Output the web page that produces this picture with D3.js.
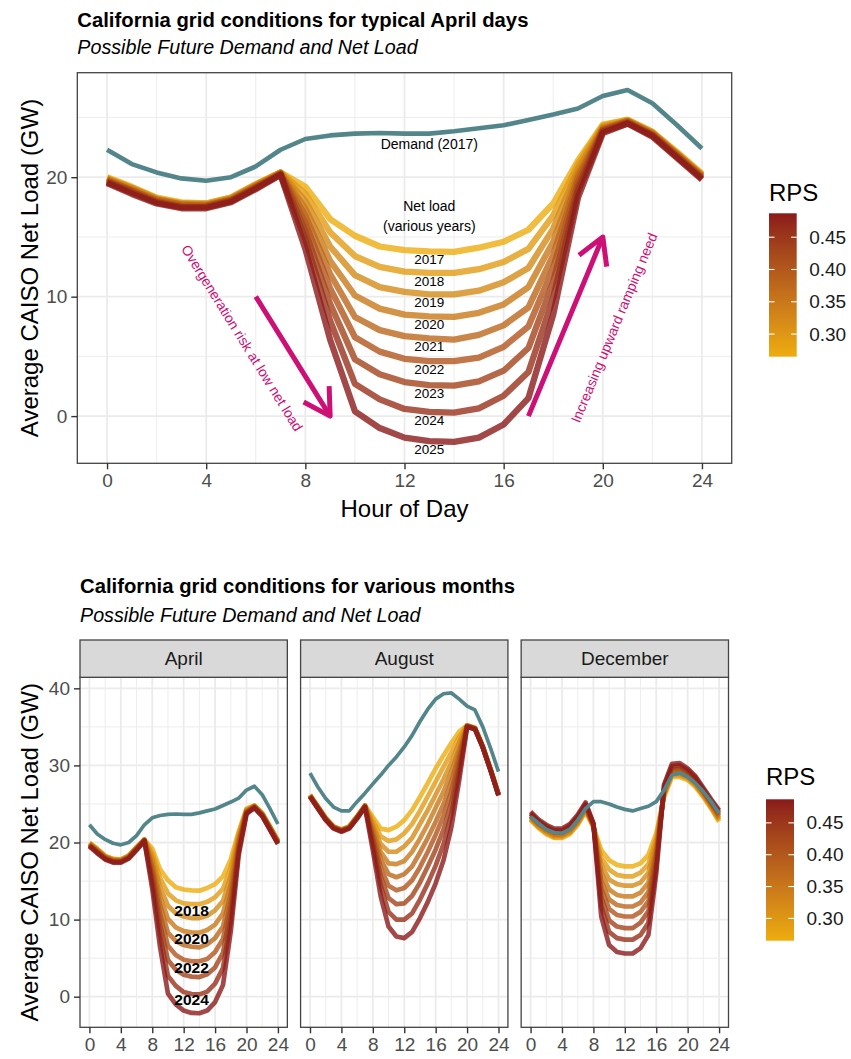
<!DOCTYPE html>
<html>
<head>
<meta charset="utf-8">
<script src="https://cdn.jsdelivr.net/npm/d3@7"></script>
<style>
  body { margin: 0; background: #fff; }
  text { font-family: "Liberation Sans", Arial, Helvetica, sans-serif; }
</style>
</head>
<body>
<svg id="chart" width="851" height="1059"></svg>
<script>
// ---------------------------------------------------------------------------
// Data: hourly averages (GW) by hour of day
// ---------------------------------------------------------------------------
const hours = [0,1,2,3,4,5,6,7,8,9,10,11,12,13,14,15,16,17,18,19,20,21,22,23,24];
const years = [2017, 2018, 2019, 2020, 2021, 2022, 2023, 2024, 2025];
const rps   = [0.265, 0.293, 0.321, 0.348, 0.376, 0.404, 0.432, 0.459, 0.487];
const months = ["April", "August", "December"];

const demandApril = [22.3, 21.1, 20.4, 19.9, 19.7, 20.0, 20.9, 22.3, 23.2, 23.5, 23.65, 23.7, 23.65,
                     23.65, 23.85, 24.1, 24.35, 24.8, 25.25, 25.75, 26.8, 27.3, 26.2, 24.35, 22.4];
const demandAugust = [29.0, 27.2, 25.7, 24.6, 24.1, 24.1, 25.3, 26.4, 27.6, 28.75, 30.0, 31.1, 32.4,
                      33.9, 35.7, 37.3, 38.6, 39.3, 39.4, 38.6, 37.7, 37.2, 35.0, 32.2, 29.2];
const demandDecember = [23.35, 22.5, 21.7, 21.3, 21.2, 21.7, 22.9, 24.4, 25.3, 25.3, 25.0, 24.6, 24.3,
                        24.1, 24.4, 24.7, 25.3, 26.8, 28.75, 29.0, 28.5, 27.7, 26.6, 25.3, 23.8];

// one row per year, 2017 .. 2025
const netApril = [
  [20.0, 19.2, 18.3, 17.9, 17.8, 18.3, 19.4, 20.4, 19.2, 16.5, 15.1, 14.2, 13.9, 13.8, 13.75, 14.1, 14.6, 15.6, 17.8, 21.4, 24.4, 24.8, 23.8, 22.1, 20.3],
  [19.9, 19.1, 18.2, 17.8, 17.8, 18.3, 19.4, 20.4, 18.6, 15.4, 13.4, 12.5, 12.1, 12.0, 12.0, 12.3, 12.9, 14.0, 16.8, 21.1, 24.3, 24.8, 23.8, 22.0, 20.2],
  [19.9, 19.1, 18.2, 17.8, 17.7, 18.2, 19.3, 20.4, 18.0, 14.2, 11.8, 10.8, 10.4, 10.2, 10.2, 10.5, 11.2, 12.4, 15.7, 20.7, 24.2, 24.7, 23.7, 22.0, 20.2],
  [19.8, 19.0, 18.1, 17.7, 17.7, 18.2, 19.3, 20.3, 17.4, 13.0, 10.1, 9.0, 8.5, 8.35, 8.3, 8.65, 9.35, 10.8, 14.6, 20.3, 24.1, 24.7, 23.7, 21.9, 20.1],
  [19.8, 18.9, 18.1, 17.7, 17.6, 18.1, 19.2, 20.3, 16.8, 11.9, 8.3, 7.2, 6.7, 6.5, 6.4, 6.8, 7.6, 9.1, 13.5, 20.0, 24.0, 24.7, 23.6, 21.9, 20.1],
  [19.7, 18.9, 18.0, 17.6, 17.6, 18.1, 19.2, 20.3, 16.2, 10.7, 6.6, 5.4, 4.8, 4.6, 4.6, 4.9, 5.8, 7.5, 12.4, 19.6, 24.0, 24.6, 23.6, 21.8, 20.0],
  [19.6, 18.8, 17.9, 17.5, 17.5, 18.0, 19.1, 20.3, 15.5, 9.4, 4.75, 3.5, 2.85, 2.6, 2.55, 2.9, 3.8, 5.7, 11.25, 19.2, 23.9, 24.6, 23.5, 21.7, 19.9],
  [19.6, 18.7, 17.9, 17.5, 17.5, 18.0, 19.1, 20.2, 14.8, 8.0, 2.7, 1.4, 0.6, 0.35, 0.3, 0.65, 1.7, 3.7, 9.9, 18.8, 23.8, 24.5, 23.5, 21.7, 19.9],
  [19.5, 18.6, 17.8, 17.4, 17.4, 17.9, 19.0, 20.2, 14.0, 6.4, 0.4, -1.0, -1.8, -2.1, -2.15, -1.8, -0.7, 1.5, 8.5, 18.3, 23.7, 24.5, 23.4, 21.6, 19.8]
];
const netAugust = [
  [26.2, 24.7, 23.2, 22.1, 21.7, 22.1, 23.4, 24.8, 23.3, 21.8, 21.6, 22.05, 22.9, 24.2, 25.9, 27.7, 29.6, 31.3, 32.9, 34.4, 35.2, 34.9, 32.5, 29.5, 26.3],
  [26.2, 24.7, 23.2, 22.1, 21.7, 22.1, 23.4, 24.8, 22.8, 20.8, 20.2, 20.4, 21.2, 22.4, 24.1, 26.0, 27.9, 29.8, 31.7, 33.7, 35.2, 34.9, 32.5, 29.5, 26.3],
  [26.1, 24.6, 23.1, 22.0, 21.6, 22.0, 23.3, 24.8, 22.3, 19.8, 18.8, 18.8, 19.5, 20.6, 22.4, 24.2, 26.2, 28.2, 30.4, 33.0, 35.2, 34.8, 32.5, 29.5, 26.3],
  [26.1, 24.6, 23.1, 22.0, 21.6, 22.0, 23.3, 24.7, 21.8, 18.8, 17.3, 17.2, 17.6, 18.8, 20.5, 22.4, 24.5, 26.6, 29.2, 32.2, 35.1, 34.8, 32.4, 29.4, 26.2],
  [26.1, 24.6, 23.1, 22.0, 21.6, 22.0, 23.3, 24.7, 21.3, 17.8, 15.9, 15.5, 15.9, 16.9, 18.7, 20.6, 22.7, 25.0, 27.9, 31.5, 35.1, 34.8, 32.4, 29.4, 26.2],
  [26.0, 24.5, 23.0, 21.9, 21.5, 21.9, 23.2, 24.7, 20.8, 16.7, 14.4, 13.8, 14.1, 15.1, 16.8, 18.8, 21.0, 23.5, 26.6, 30.8, 35.1, 34.8, 32.4, 29.4, 26.2],
  [26.0, 24.5, 23.0, 21.9, 21.5, 21.9, 23.2, 24.7, 20.3, 15.6, 12.8, 12.0, 12.1, 13.1, 14.8, 16.9, 19.1, 21.7, 25.2, 30.0, 35.1, 34.8, 32.4, 29.4, 26.2],
  [26.0, 24.5, 23.0, 21.9, 21.5, 21.9, 23.2, 24.6, 19.7, 14.4, 11.0, 10.0, 10.0, 10.8, 12.6, 14.7, 17.0, 19.8, 23.7, 29.1, 35.0, 34.7, 32.3, 29.3, 26.1],
  [25.9, 24.4, 22.9, 21.8, 21.4, 21.8, 23.1, 24.6, 19.0, 13.0, 9.1, 7.8, 7.6, 8.4, 10.2, 12.3, 14.7, 17.7, 22.0, 28.1, 35.0, 34.7, 32.3, 29.3, 26.1]
];
const netDecember = [
  [22.9, 21.9, 21.1, 20.6, 20.6, 21.1, 22.3, 24.0, 22.0, 19.0, 17.7, 17.1, 16.9, 16.9, 17.3, 18.4, 21.2, 25.9, 28.5, 28.5, 28.1, 27.2, 25.9, 24.4, 22.7],
  [23.0, 22.0, 21.2, 20.7, 20.7, 21.2, 22.4, 24.1, 22.1, 18.0, 16.5, 15.8, 15.6, 15.6, 16.1, 17.2, 20.6, 26.1, 28.7, 28.7, 28.3, 27.4, 26.0, 24.5, 22.9],
  [23.1, 22.1, 21.4, 20.9, 20.9, 21.4, 22.6, 24.3, 22.1, 17.1, 15.2, 14.6, 14.4, 14.4, 14.8, 16.1, 20.0, 26.3, 28.9, 28.9, 28.4, 27.5, 26.2, 24.7, 23.0],
  [23.3, 22.3, 21.5, 21.0, 21.0, 21.5, 22.7, 24.4, 22.2, 16.1, 13.9, 13.2, 13.0, 13.0, 13.5, 14.8, 19.4, 26.4, 29.1, 29.1, 28.6, 27.7, 26.3, 24.8, 23.2],
  [23.4, 22.4, 21.7, 21.2, 21.2, 21.7, 22.9, 24.6, 22.2, 15.0, 12.6, 11.9, 11.7, 11.7, 12.2, 13.6, 18.8, 26.6, 29.3, 29.3, 28.8, 27.8, 26.5, 25.0, 23.4],
  [23.5, 22.5, 21.8, 21.3, 21.3, 21.9, 23.1, 24.7, 22.3, 14.0, 11.4, 10.6, 10.4, 10.4, 11.0, 12.4, 18.2, 26.8, 29.5, 29.5, 29.0, 28.0, 26.6, 25.1, 23.6],
  [23.7, 22.7, 21.9, 21.4, 21.4, 22.0, 23.2, 24.8, 22.4, 12.9, 9.9, 9.1, 8.9, 8.9, 9.6, 11.1, 17.5, 27.0, 29.7, 29.8, 29.2, 28.2, 26.7, 25.2, 23.8],
  [23.8, 22.8, 22.1, 21.6, 21.6, 22.2, 23.4, 25.0, 22.4, 11.7, 8.4, 7.6, 7.4, 7.4, 8.0, 9.6, 16.8, 27.3, 29.9, 30.0, 29.4, 28.4, 26.9, 25.4, 24.0],
  [24.0, 23.0, 22.3, 21.8, 21.8, 22.4, 23.6, 25.2, 22.5, 10.4, 6.7, 5.8, 5.6, 5.6, 6.3, 8.0, 16.0, 27.5, 30.2, 30.3, 29.6, 28.6, 27.1, 25.6, 24.2]
];

// tick values
const hourTicks = [0, 4, 8, 12, 16, 20, 24];
const hourMinor = [2, 6, 10, 14, 18, 22];
const rpsTicks = [0.30, 0.35, 0.40, 0.45];
const topLoadTicks = [0, 10, 20];
const topLoadMinor = [5, 15, 25];
const facetLoadTicks = [0, 10, 20, 30, 40];
const facetLoadMinor = [5, 15, 25, 35];
const facetLabelYears = [2018, 2020, 2022, 2024];

// ---------------------------------------------------------------------------
const svg = d3.select("#chart");
svg.append("rect").attr("width", 851).attr("height", 1059).attr("fill", "#fff");
const defs = svg.append("defs");

const DEMAND = "#53868B";
const PINK = "#CD1076";
const TITLE_SIZE = 20.3;
const SUBTITLE_SIZE = 19.7;
const color = d3.scaleLinear()
  .domain(d3.extent(rps))
  .range(["#EEAD0E", "#8B1A1A"])
  .interpolate(d3.interpolateLab);

function gridAndFrame(g, x, y, xMaj, xMin, yMaj, yMin) {
  const [x0, x1] = x.range();
  const [yb, yt] = y.range();
  g.append("rect").attr("x", x0).attr("y", yt).attr("width", x1 - x0).attr("height", yb - yt)
    .attr("fill", "#fff");
  const grid = g.append("g");
  grid.selectAll(".vmin").data(xMin).join("line")
    .attr("x1", d => x(d)).attr("x2", d => x(d)).attr("y1", yt).attr("y2", yb)
    .attr("stroke", "#EBEBEB").attr("stroke-width", 0.9);
  grid.selectAll(".hmin").data(yMin).join("line")
    .attr("y1", d => y(d)).attr("y2", d => y(d)).attr("x1", x0).attr("x2", x1)
    .attr("stroke", "#EBEBEB").attr("stroke-width", 0.9);
  grid.selectAll(".vmaj").data(xMaj).join("line")
    .attr("x1", d => x(d)).attr("x2", d => x(d)).attr("y1", yt).attr("y2", yb)
    .attr("stroke", "#EBEBEB").attr("stroke-width", 1.8);
  grid.selectAll(".hmaj").data(yMaj).join("line")
    .attr("y1", d => y(d)).attr("y2", d => y(d)).attr("x1", x0).attr("x2", x1)
    .attr("stroke", "#EBEBEB").attr("stroke-width", 1.8);
}

function frame(g, x, y) {
  const [x0, x1] = x.range();
  const [yb, yt] = y.range();
  g.append("rect").attr("x", x0).attr("y", yt).attr("width", x1 - x0).attr("height", yb - yt)
    .attr("fill", "none").attr("stroke", "#444").attr("stroke-width", 1.3);
}

function styleAxis(sel, size) {
  sel.select(".domain").remove();
  sel.selectAll(".tick line").attr("stroke", "#333").attr("stroke-width", 1.4);
  sel.selectAll(".tick text").attr("fill", "#4D4D4D").style("font-size", size + "px")
    .style("font-family", '"Liberation Sans", Arial, sans-serif');
}

function drawLines(g, x, y, netRows, demand, width, demandWidth) {
  const line = d3.line().x((d, i) => x(hours[i])).y(d => y(d));
  g.append("g").selectAll("path").data(netRows).join("path")
    .attr("d", line)
    .attr("fill", "none")
    .attr("stroke", (d, i) => color(rps[i]))
    .attr("stroke-opacity", 0.8)
    .attr("stroke-width", width)
    .attr("stroke-linejoin", "round")
    .attr("stroke-linecap", "butt");
  g.append("path").datum(demand)
    .attr("d", line)
    .attr("fill", "none")
    .attr("stroke", DEMAND)
    .attr("stroke-width", demandWidth)
    .attr("stroke-linejoin", "round");
}

function colorLegend(id, x0, yTop, w, h, titleBaseline) {
  const g = svg.append("g");
  const grad = defs.append("linearGradient").attr("id", id)
    .attr("x1", 0).attr("y1", 1).attr("x2", 0).attr("y2", 0);
  const [lo, hi] = d3.extent(rps);
  d3.range(0, 1.0001, 0.05).forEach(t => {
    grad.append("stop").attr("offset", t).attr("stop-color", color(lo + t * (hi - lo)));
  });
  const ls = d3.scaleLinear().domain([lo, hi]).range([yTop + h, yTop]);
  g.append("text").attr("x", x0).attr("y", titleBaseline).text("RPS")
    .style("font-size", "24px").attr("fill", "#000");
  g.append("rect").attr("x", x0).attr("y", yTop).attr("width", w).attr("height", h)
    .attr("fill", `url(#${id})`);
  const tk = g.append("g").selectAll("g").data(rpsTicks).join("g");
  tk.append("line").attr("x1", x0).attr("x2", x0 + w * 0.2)
    .attr("y1", d => ls(d)).attr("y2", d => ls(d)).attr("stroke", "#fff").attr("stroke-width", 1.1);
  tk.append("line").attr("x1", x0 + w * 0.8).attr("x2", x0 + w)
    .attr("y1", d => ls(d)).attr("y2", d => ls(d)).attr("stroke", "#fff").attr("stroke-width", 1.1);
  tk.append("text").attr("x", x0 + w + 12.5).attr("y", d => ls(d))
    .attr("dominant-baseline", "central").style("font-size", "19px").attr("fill", "#1A1A1A")
    .text(d => d3.format(".2f")(d));
}

function arrow(g, x, y, from, to) {
  const x1 = x(from[0]), y1 = y(from[1]), x2 = x(to[0]), y2 = y(to[1]);
  const a = Math.atan2(y2 - y1, x2 - x1);
  const L = 30, spread = Math.PI / 6;
  g.append("line").attr("x1", x1).attr("y1", y1).attr("x2", x2).attr("y2", y2)
    .attr("stroke", PINK).attr("stroke-width", 5);
  const p1 = [x2 - L * Math.cos(a - spread), y2 - L * Math.sin(a - spread)];
  const p2 = [x2 - L * Math.cos(a + spread), y2 - L * Math.sin(a + spread)];
  g.append("path").attr("d", `M${p1}L${x2},${y2}L${p2}`)
    .attr("fill", "none").attr("stroke", PINK).attr("stroke-width", 5)
    .attr("stroke-linejoin", "round");
  return a * 180 / Math.PI;
}

// ---------------------------------------------------------------------------
// Chart 1: typical April day
// ---------------------------------------------------------------------------
{
  const g = svg.append("g");
  const x = d3.scaleLinear().domain([-1.2, 25.2]).range([77.3, 731.7]);
  const y = d3.scaleLinear().domain([-3.95, 28.75]).range([463.3, 72.7]);

  g.append("text").attr("x", 77.3).attr("y", 26.5)
    .text("California grid conditions for typical April days")
    .style("font-size", TITLE_SIZE + "px").style("font-weight", "bold");
  g.append("text").attr("x", 77.3).attr("y", 54)
    .text("Possible Future Demand and Net Load")
    .style("font-size", SUBTITLE_SIZE + "px").style("font-style", "italic");

  gridAndFrame(g, x, y, hourTicks, hourMinor, topLoadTicks, topLoadMinor);
  drawLines(g, x, y, netApril, demandApril, 6.3, 4.6);

  const ann = g.append("g").style("font-size", "14px").attr("fill", "#000")
    .attr("text-anchor", "middle").attr("dominant-baseline", "central");
  ann.append("text").attr("x", x(13)).attr("y", y(22.8)).text("Demand (2017)");
  ann.append("text").attr("x", x(13)).attr("y", y(17.6)).text("Net load");
  ann.append("text").attr("x", x(13)).attr("y", y(15.9)).text("(various years)");
  ann.selectAll(".yr").data(years).join("text")
    .attr("x", x(13)).attr("y", (d, i) => y(netApril[i][13]) + 8.5)
    .style("font-size", "13.5px").text(d => d);

  const pink = g.append("g");
  const a1 = arrow(pink, x, y, [6, 10], [9, 0]);
  const a2 = arrow(pink, x, y, [17, 0], [20, 15]);
  pink.append("text")
    .attr("transform", `translate(${x(5.45)},${y(6.55)}) rotate(${a1})`)
    .attr("text-anchor", "middle").attr("dominant-baseline", "central")
    .attr("fill", PINK).style("font-size", "14px")
    .text("Overgeneration risk at low net load");
  pink.append("text")
    .attr("transform", `translate(${x(20.45)},${y(7.4)}) rotate(${a2})`)
    .attr("text-anchor", "middle").attr("dominant-baseline", "central")
    .attr("fill", PINK).style("font-size", "14px")
    .text("Increasing upward ramping need");

  frame(g, x, y);

  const ax = g.append("g").attr("transform", "translate(0,463.3)")
    .call(d3.axisBottom(x).tickValues(hourTicks).tickSize(6).tickPadding(4).tickFormat(d3.format("d")));
  styleAxis(ax, 19);
  const ay = g.append("g").attr("transform", "translate(77.3,0)")
    .call(d3.axisLeft(y).tickValues(topLoadTicks).tickSize(6).tickPadding(4).tickFormat(d3.format("d")));
  styleAxis(ay, 19);

  g.append("text").attr("x", (77.3 + 731.7) / 2).attr("y", 517).attr("text-anchor", "middle")
    .style("font-size", "24px").text("Hour of Day");
  g.append("text").attr("transform", `translate(37.5,${(72.7 + 463.3) / 2}) rotate(-90)`)
    .attr("text-anchor", "middle").style("font-size", "24px")
    .text("Average CAISO Net Load (GW)");

  colorLegend("rpsTop", 769, 213.3, 27.7, 143.4, 200.5);
}

// ---------------------------------------------------------------------------
// Chart 2: April, August and December panels
// ---------------------------------------------------------------------------
{
  const g = svg.append("g");
  g.append("text").attr("x", 80).attr("y", 593)
    .text("California grid conditions for various months")
    .style("font-size", TITLE_SIZE + "px").style("font-weight", "bold");
  g.append("text").attr("x", 80).attr("y", 621.5)
    .text("Possible Future Demand and Net Load")
    .style("font-size", SUBTITLE_SIZE + "px").style("font-style", "italic");

  const panelLeft = d3.scaleBand().domain(months).range([80, 728.5]).paddingInner(0.06);
  const y = d3.scaleLinear().domain([-3.97, 41.43]).range([1027.3, 677.3]);
  const netByMonth = { April: netApril, August: netAugust, December: netDecember };
  const demandByMonth = { April: demandApril, August: demandAugust, December: demandDecember };

  months.forEach((m, mi) => {
    const p = g.append("g");
    const left = panelLeft(m), right = left + panelLeft.bandwidth();
    const x = d3.scaleLinear().domain([-1.2, 25.2]).range([left, right]);

    gridAndFrame(p, x, y, hourTicks, hourMinor, facetLoadTicks, facetLoadMinor);
    drawLines(p, x, y, netByMonth[m], demandByMonth[m], 4.7, 3.7);

    if (m === "April") {
      p.append("g").selectAll("text").data(facetLabelYears).join("text")
        .attr("x", x(13)).attr("y", d => y(netApril[years.indexOf(d)][13]) + 6)
        .attr("text-anchor", "middle").attr("dominant-baseline", "central")
        .style("font-size", "15.5px").style("font-weight", "bold").text(d => d);
    }
    frame(p, x, y);

    // strip
    p.append("rect").attr("x", left).attr("y", 640).attr("width", right - left).attr("height", 37.3)
      .attr("fill", "#D9D9D9").attr("stroke", "#444").attr("stroke-width", 1.3);
    p.append("text").attr("x", (left + right) / 2).attr("y", 658.7)
      .attr("text-anchor", "middle").attr("dominant-baseline", "central")
      .attr("fill", "#1A1A1A").style("font-size", "19px").text(m);

    const ax = p.append("g").attr("transform", "translate(0,1027.3)")
      .call(d3.axisBottom(x).tickValues(hourTicks).tickSize(6).tickPadding(4).tickFormat(d3.format("d")));
    styleAxis(ax, 19);
    if (mi === 0) {
      const ay = p.append("g").attr("transform", `translate(${left},0)`)
        .call(d3.axisLeft(y).tickValues(facetLoadTicks).tickSize(6).tickPadding(4).tickFormat(d3.format("d")));
      styleAxis(ay, 19);
    }
  });

  g.append("text").attr("transform", `translate(37.5,${(677.3 + 1027.3) / 2}) rotate(-90)`)
    .attr("text-anchor", "middle").style("font-size", "24px")
    .text("Average CAISO Net Load (GW)");

  colorLegend("rpsFacet", 766, 799.3, 28, 141.4, 785);
}
</script>
</body>
</html>
